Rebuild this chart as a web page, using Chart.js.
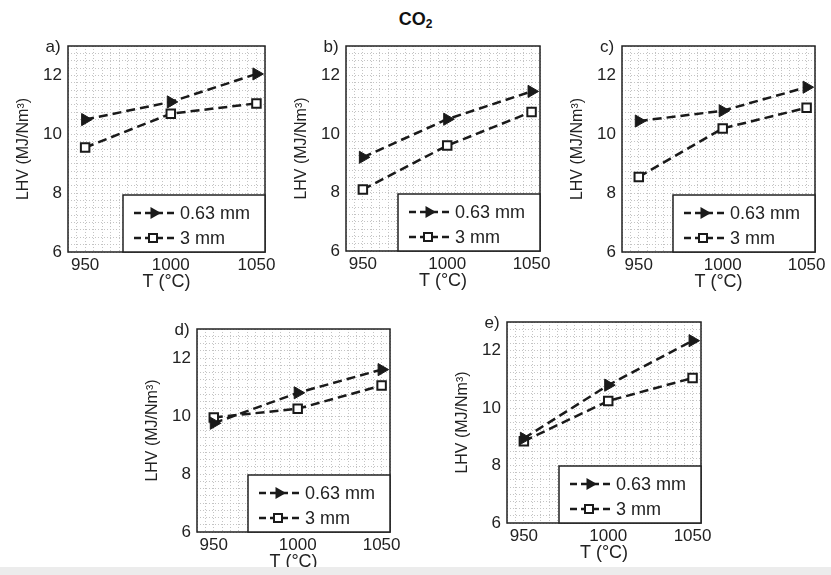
<!DOCTYPE html>
<html>
<head>
<meta charset="utf-8">
<script src="https://cdn.jsdelivr.net/npm/chart.js@4.4.1/dist/chart.umd.min.js"></script>
<style>
  html, body { margin: 0; padding: 0; background: #fff; }
  body { width: 831px; height: 575px; position: relative; overflow: hidden; font-family: "Liberation Sans", Arial, sans-serif; }
  canvas { position: absolute; }
  #title { position: absolute; left: 0; width: 831px; top: 9px; text-align: center; font-weight: bold; font-size: 18px; color: #111; }
  #title sub { font-size: 12px; vertical-align: -3px; }
  #band { position: absolute; left: 0; top: 567px; width: 831px; height: 8px; background: #ececec; }
</style>
</head>
<body>
<div id="title">CO<sub>2</sub></div>
<script>
// ---- data ----
const temps = [950, 1000, 1050];
const xTickLabels = [950, 1000, 1050];
const yTickLabels = [6, 8, 10, 12];
const seriesNames = ['0.63 mm', '3 mm'];
const panelLabels = ['a)', 'b)', 'c)', 'd)', 'e)'];

const fineA = [10.5, 11.1, 12.05];
const coarseA = [9.55, 10.7, 11.05];
const fineB = [9.2, 10.5, 11.45];
const coarseB = [8.1, 9.6, 10.75];
const fineC = [10.45, 10.8, 11.6];
const coarseC = [8.55, 10.2, 10.9];
const fineD = [9.75, 10.8, 11.6];
const coarseD = [9.95, 10.25, 11.05];
const fineE = [8.95, 10.8, 12.35];
const coarseE = [8.85, 10.25, 11.05];

const fineSeries = [fineA, fineB, fineC, fineD, fineE];
const coarseSeries = [coarseA, coarseB, coarseC, coarseD, coarseE];

// ---- layout (plot boxes in page pixels) ----
const boxes = [
  {l: 68, t: 46, r: 265, b: 252},
  {l: 346, t: 46, r: 540, b: 251},
  {l: 622, t: 46, r: 815, b: 252},
  {l: 197, t: 329, r: 390, b: 532},
  {l: 507, t: 322, r: 701, b: 523}
];
const Y_W = 62, X_H = 48, PAD_T = 20, PAD_R = 14;
const FONT = '"Liberation Sans", Arial, sans-serif';
const INK = '#1a1a1a';
const TXT = '#222';

function drawTri(ctx, x, y, r) {
  ctx.beginPath();
  ctx.moveTo(x + r, y);
  ctx.lineTo(x - r * 0.5, y - r * 0.866);
  ctx.lineTo(x - r * 0.5, y + r * 0.866);
  ctx.closePath();
  ctx.fillStyle = INK; ctx.fill();
}
function drawSq(ctx, x, y, h) {
  ctx.fillStyle = '#fff';
  ctx.fillRect(x - h, y - h, 2 * h, 2 * h);
  ctx.lineWidth = 2; ctx.strokeStyle = INK;
  ctx.strokeRect(x - h, y - h, 2 * h, 2 * h);
}

const framePlugin = {
  id: 'frame',
  beforeDatasetsDraw(chart) {
    const {ctx, chartArea: a} = chart;
    ctx.save();
    ctx.strokeStyle = '#222'; ctx.lineWidth = 1.5;
    ctx.strokeRect(a.left, a.top, a.right - a.left, a.bottom - a.top);
    ctx.restore();
  },
  afterDraw(chart) {
    const {ctx, chartArea: a} = chart;
    const idx = chart.options.plugins.frame.index;
    ctx.save();
    // legend box
    const lw = 142, lh = 57;
    const lx = a.right - lw, ly = a.bottom - lh;
    ctx.fillStyle = '#fff';
    ctx.fillRect(lx, ly, lw, lh);
    ctx.strokeStyle = '#222'; ctx.lineWidth = 1.5;
    ctx.strokeRect(lx, ly, lw, lh);
    const rows = [ly + 18, ly + 43];
    rows.forEach((ry, i) => {
      ctx.strokeStyle = INK; ctx.lineWidth = 2.5; ctx.setLineDash([7, 4]);
      ctx.beginPath(); ctx.moveTo(lx + 11, ry); ctx.lineTo(lx + 54, ry); ctx.stroke();
      ctx.setLineDash([]);
      if (i === 0) drawTri(ctx, lx + 31, ry, 7); else drawSq(ctx, lx + 30, ry, 4);
      ctx.fillStyle = TXT;
      ctx.font = '18px ' + FONT;
      ctx.textBaseline = 'middle'; ctx.textAlign = 'left';
      ctx.fillText(seriesNames[i], lx + 57, ry + 1);
    });
    // panel label
    ctx.font = '17px ' + FONT;
    ctx.fillStyle = TXT;
    ctx.textAlign = 'center'; ctx.textBaseline = 'middle';
    ctx.fillText(panelLabels[idx], a.left - 15, a.top + 1);
    ctx.restore();
  }
};

boxes.forEach((bx, i) => {
  const cv = document.createElement('canvas');
  const w = (bx.r - bx.l) + Y_W + PAD_R;
  const h = (bx.b - bx.t) + PAD_T + X_H;
  cv.width = w; cv.height = h;
  cv.style.left = (bx.l - Y_W) + 'px';
  cv.style.top = (bx.t - PAD_T) + 'px';
  cv.style.width = w + 'px'; cv.style.height = h + 'px';
  document.body.appendChild(cv);

  const mk = arr => temps.map((t, k) => ({x: t, y: arr[k]}));
  new Chart(cv, {
    type: 'line',
    data: {
      datasets: [
        {
          label: seriesNames[0], data: mk(fineSeries[i]),
          borderColor: INK, borderWidth: 2.5, borderDash: [9, 5], tension: 0, fill: false,
          pointStyle: 'triangle', pointRotation: 90, pointRadius: 7,
          pointBackgroundColor: INK, pointBorderColor: INK, pointBorderWidth: 1
        },
        {
          label: seriesNames[1], data: mk(coarseSeries[i]),
          borderColor: INK, borderWidth: 2.5, borderDash: [9, 5], tension: 0, fill: false,
          pointStyle: 'rect', pointRadius: 6,
          pointBackgroundColor: '#fff', pointBorderColor: INK, pointBorderWidth: 2
        }
      ]
    },
    options: {
      responsive: false, animation: false, devicePixelRatio: 1,
      layout: {padding: {left: 0, top: PAD_T, right: PAD_R, bottom: 0}},
      plugins: {legend: {display: false}, tooltip: {enabled: false}, frame: {index: i}},
      scales: {
        x: {
          type: 'linear', min: 940, max: 1055,
          afterFit: s => { s.height = X_H; },
          grid: {color: '#c4c4c4', lineWidth: 1, drawTicks: false},
          border: {display: false, dash: [1, 2]},
          ticks: {
            stepSize: 5, autoSkip: false, maxRotation: 0, minRotation: 0, padding: 3,
            color: TXT, font: {family: FONT, size: 17},
            callback: v => xTickLabels.includes(v) ? String(v) : ''
          },
          title: {display: true, text: 'T (°C)', color: TXT, font: {family: FONT, size: 18}, padding: {top: 0, bottom: 7}}
        },
        y: {
          type: 'linear', min: 6, max: 13,
          afterFit: s => { s.width = Y_W; },
          grid: {color: '#c4c4c4', lineWidth: 1, drawTicks: false},
          border: {display: false, dash: [1, 2]},
          ticks: {
            stepSize: 0.25, autoSkip: false, padding: 6,
            color: TXT, font: {family: FONT, size: 17},
            callback: v => yTickLabels.includes(v) ? String(v) : ''
          },
          title: {display: true, text: 'LHV (MJ/Nm³)', color: TXT, font: {family: FONT, size: 16}, padding: {top: 8, bottom: 0}}
        }
      }
    },
    plugins: [framePlugin]
  });
});
</script>
<div id="band"></div>
</body>
</html>
